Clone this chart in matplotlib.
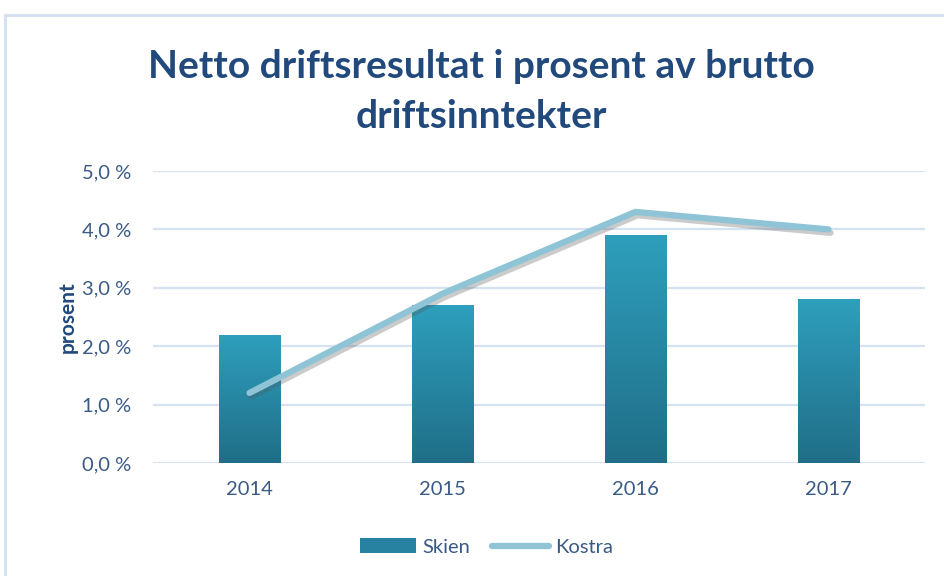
import numpy as np
import matplotlib.pyplot as plt
import matplotlib.patheffects as pe
from matplotlib.patches import Rectangle
from matplotlib.lines import Line2D
from matplotlib.ticker import FuncFormatter

years = ['2014', '2015', '2016', '2017']
skien = [2.2, 2.7, 3.9, 2.8]
kostra = [1.2, 2.9, 4.3, 4.0]

title_col = '#21497B'
text_col = '#3A5A86'
grid_col = '#D5E2F2'


def main():
    plt.rcParams['font.family'] = ['Lato', 'DejaVu Sans']
    fig = plt.figure(figsize=(9.44, 5.76), dpi=100)
    ax = fig.add_axes([153 / 944, 1 - 463 / 576, 772 / 944, 292 / 576])

    # chart frame (cropped at right/bottom)
    fig.patches.append(Rectangle((5 / 944, -0.1), 1.2, 1 - 15 / 576 + 0.1,
                                 transform=fig.transFigure, fill=False,
                                 edgecolor='#D3E0F1', linewidth=2))

    x = np.arange(len(years))
    bars = ax.bar(x, skien, width=0.32, color='#2A8CAA', zorder=2)
    grad = np.linspace(1, 0, 256).reshape(-1, 1)
    cmap = plt.matplotlib.colors.LinearSegmentedColormap.from_list(
        'g', ['#206E87', '#2E9FBD'])
    for b in bars:
        b.set_facecolor('none')
        x0, y0 = b.get_x(), b.get_y()
        im = ax.imshow(grad, cmap=cmap, aspect='auto', zorder=2,
                       extent=[x0, x0 + b.get_width(), y0, y0 + b.get_height()])
        im.set_clip_path(b)

    ax.plot(x, kostra, color='#8EC4D5', linewidth=4.5, solid_capstyle='round',
            solid_joinstyle='round', zorder=3,
            path_effects=[pe.SimpleLineShadow(offset=(1.5, -2.5), shadow_color='#555555', alpha=0.3),
                          pe.Normal()])

    ax.set_xlim(-0.5, 3.5)
    ax.set_ylim(0, 5)
    ax.set_yticks(np.arange(0, 5.01, 1))
    ax.yaxis.set_major_formatter(FuncFormatter(lambda v, p: f'{v:.1f} %'.replace('.', ',')))
    ax.set_xticks(x)
    ax.set_xticklabels(years)
    ax.grid(axis='y', color=grid_col, linewidth=1.6, zorder=0)
    ax.set_axisbelow(True)
    for s in ax.spines.values():
        s.set_visible(False)
    ax.tick_params(length=0, labelsize=14.5, colors=text_col)
    ax.tick_params(axis='y', pad=16)
    ax.tick_params(axis='x', pad=13)
    ax.set_ylabel('prosent', fontsize=15, fontweight='bold', color=title_col, labelpad=3)

    fig.text(0.51, 1 - 66 / 576, 'Netto driftsresultat i prosent av brutto',
             ha='center', va='center', fontsize=28, fontweight='bold', color=title_col)
    fig.text(0.51, 1 - 116 / 576, 'driftsinntekter',
             ha='center', va='center', fontsize=28, fontweight='bold', color=title_col)

    # legend
    handles = [Rectangle((0, 0), 1, 1, facecolor='#2682A0'),
               Line2D([0], [0], color='#8EC4D5', linewidth=4.5, solid_capstyle='round')]
    fig.legend(handles, ['Skien', 'Kostra'], loc='center', bbox_to_anchor=(0.515, 1 - 547 / 576),
               ncol=2, frameon=False, fontsize=14.5, labelcolor=text_col,
               handlelength=2.8, handleheight=0.7, handletextpad=0.3, columnspacing=1.1)

    fig.savefig('out.png', dpi=100)


if __name__ == '__main__':
    main()
